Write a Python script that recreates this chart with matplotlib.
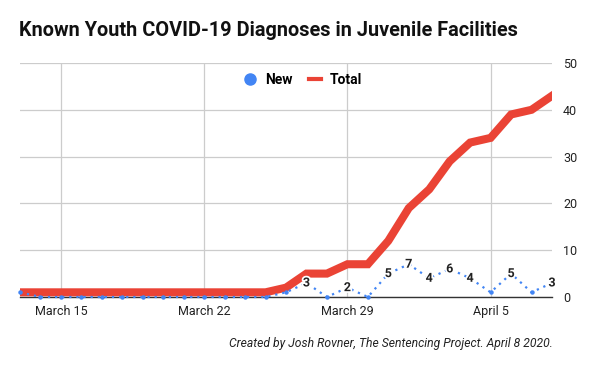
import matplotlib
matplotlib.use('Agg')
import matplotlib.pyplot as plt
import matplotlib.patheffects as pe
from matplotlib.lines import Line2D
import pandas as pd

plt.rcParams['font.family'] = ['Roboto', 'DejaVu Sans']

dates = pd.date_range('2020-03-13', '2020-04-08', freq='D')
new = [1, 0, 0, 0, 0, 0, 0, 0, 0, 0, 0, 0, 0,
       1, 3, 0, 2, 0, 5, 7, 4, 6, 4, 1, 5, 1, 3]
total = [1, 1, 1, 1, 1, 1, 1, 1, 1, 1, 1, 1, 1,
         2, 5, 5, 7, 7, 12, 19, 23, 29, 33, 34, 39, 40, 43]
tick_dates = pd.to_datetime(['2020-03-15', '2020-03-22', '2020-03-29', '2020-04-05'])
tick_labels = ['March 15', 'March 22', 'March 29', 'April 5']

red = '#ea4335'
blue = '#4285f4'

fig = plt.figure(figsize=(6, 3.71), dpi=100)
ax = fig.add_axes([20 / 600, 1 - 297 / 371, 532 / 600, 234 / 371])

ax.plot(dates, total, color=red, lw=5.8, solid_joinstyle='miter', zorder=3)
ax.plot(dates, new, color=blue, lw=1.6, ls=(0, (1, 2.2)), marker='o', ms=2.2,
        zorder=4, clip_on=False)

# labels only for the larger daily counts, like the original
for d, v in zip(dates, new):
    if v >= 2:
        ax.text(d, v, str(v), ha='center', va='center', fontsize=9, fontweight='bold',
                color='#222222', zorder=5,
                path_effects=[pe.withStroke(linewidth=2.5, foreground='white')])

ax.set_xlim(dates[0], dates[-1])
ax.set_ylim(0, 50)
ax.set_xticks(tick_dates)
ax.set_xticklabels(tick_labels)
ax.yaxis.tick_right()
ax.set_yticks(range(0, 51, 10))
ax.tick_params(axis='both', length=0, labelsize=9, colors='#222222')
ax.tick_params(axis='y', pad=8)
ax.tick_params(axis='x', pad=6)
ax.grid(True, color='#cccccc', lw=0.9)
ax.set_axisbelow(True)
for s in ['top', 'left', 'right']:
    ax.spines[s].set_visible(False)
ax.spines['bottom'].set_color('#333333')
ax.spines['bottom'].set_linewidth(1)

handles = [Line2D([], [], color=blue, marker='o', ls='none', ms=8),
           Line2D([], [], color=red, lw=3)]
ax.legend(handles, ['New', 'Total'], loc='center', bbox_to_anchor=(0.532, 0.927),
          ncol=2, frameon=False, prop={'weight': 'bold', 'size': 10},
          handlelength=0.9, columnspacing=1.2, handletextpad=0.6)

fig.text(19 / 600, 1 - 31 / 371, 'Known Youth COVID-19 Diagnoses in Juvenile Facilities',
         fontsize=14.3, fontweight='bold', va='center', ha='left', color='#111111')
fig.text(553 / 600, 1 - 343 / 371,
         'Created by Josh Rovner, The Sentencing Project. April 8 2020.',
         fontsize=8.75, style='italic', ha='right', va='center', color='#222222')

fig.savefig('out.png', dpi=100)
